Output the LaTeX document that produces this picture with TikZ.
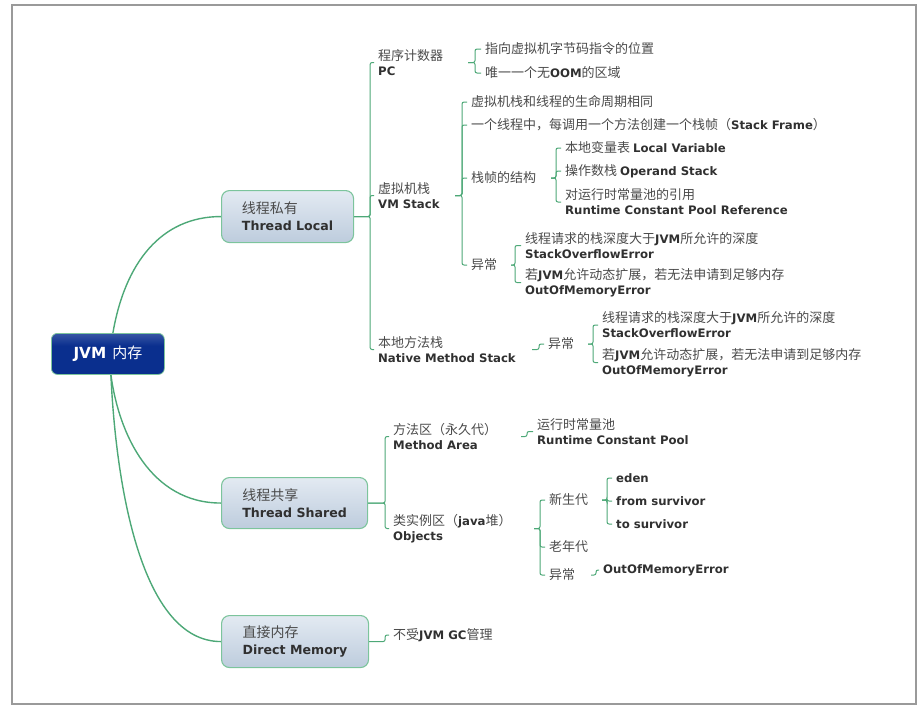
\documentclass[tikz,border=0pt]{standalone}
\usepackage{fontspec}
\setmainfont{Noto Sans CJK SC}
\newfontfamily\vfont{DejaVu Sans}[Scale=0.9]
\usetikzlibrary{calc}
\definecolor{lineg}{HTML}{4DA877}
\definecolor{boxg}{HTML}{7CC49C}
\definecolor{boxtop}{HTML}{E3EAF2}
\definecolor{boxbot}{HTML}{BDCCDD}
\definecolor{jvmdark}{HTML}{0A2F8E}
\definecolor{jvmlight}{HTML}{8196C9}
\definecolor{txtgray}{HTML}{4A4A4A}
\definecolor{txtdark}{HTML}{303030}
\definecolor{framegray}{HTML}{9A9A9A}
\pgfdeclareverticalshading{jvmshade}{100bp}{color(0bp)=(jvmdark); color(60bp)=(jvmdark); color(100bp)=(jvmlight)}
\pgfdeclarelayer{bg}
\pgfsetlayers{bg,main}
\newcommand\vb[1]{{\vfont\bfseries\color{txtdark}#1}}
\tikzset{
  conn/.style={draw=lineg, line width=1pt, rounded corners=2pt},
  trunk/.style={draw=lineg, line width=1.4pt},
  lbl/.style={anchor=west, inner xsep=4pt, inner ysep=1pt, align=left, text=txtgray, font=\fontsize{13}{15}\selectfont},
  topic/.style={anchor=north west, draw=boxg, line width=1.1pt, rounded corners=8pt, top color=boxtop, bottom color=boxbot, align=left, text=txtgray, font=\fontsize{14}{17}\selectfont, minimum height=52pt},
  rootbox/.style={anchor=north west, draw=boxg, line width=0.8pt, rounded corners=6pt, shading=jvmshade, text=white, font=\fontsize{15}{18}\selectfont},
  framebox/.style={draw=framegray, line width=1.3pt}
}
\begin{document}
\begin{tikzpicture}[x=1pt,y=-1pt]
\useasboundingbox (0,0) rectangle (923,712);
\begin{pgfonlayer}{bg}
\draw[framebox] (12,5) rectangle (916,704);
\end{pgfonlayer}
% root and topics
\node[rootbox, minimum width=113pt, minimum height=41pt] (jvm) at (51,333) {{\vfont\fontsize{17}{18}\selectfont\bfseries JVM}\hspace{6pt}内存};
\node[topic, minimum width=132pt] (tl) at (221,190) {线程私有\\\vb{Thread Local}};
\node[topic, minimum width=146pt, minimum height=51pt] (ts) at (221,477) {线程共享\\\vb{Thread Shared}};
\node[topic, minimum width=147pt] (dm) at (221,615) {直接内存\\\vb{Direct Memory}};
% Thread Local subtree
\node[lbl] (pc) at (374,62.5) {程序计数器\\\vb{PC}};
\node[lbl] (pc1) at (481,49) {指向虚拟机字节码指令的位置};
\node[lbl] (pc2) at (481,73) {唯一一个无\vb{OOM}的区域};
\node[lbl] (vms) at (374,195.5) {虚拟机栈\\\vb{VM Stack}};
\node[lbl] (v1) at (467,102) {虚拟机栈和线程的生命周期相同};
\node[lbl] (v2) at (467,125) {一个线程中，每调用一个方法创建一个栈帧（\vb{Stack Frame}）};
\node[lbl] (v3) at (467,178) {栈帧的结构};
\node[lbl] (f1) at (561,148) {本地变量表 \vb{Local Variable}};
\node[lbl] (f2) at (561,171) {操作数栈 \vb{Operand Stack}};
\node[lbl] (f3) at (561,202) {对运行时常量池的引用\\\vb{Runtime Constant Pool Reference}};
\node[lbl] (v4) at (467,265) {异常};
\node[lbl] (e1) at (521,245.5) {线程请求的栈深度大于\vb{JVM}所允许的深度\\\vb{StackOverflowError}};
\node[lbl] (e2) at (521,282.5) {若\vb{JVM}允许动态扩展，若无法申请到足够内存\\\vb{OutOfMemoryError}};
\node[lbl] (nms) at (374,349.5) {本地方法栈\\\vb{Native Method Stack}};
\node[lbl] (n1) at (544,344) {异常};
\node[lbl] (ne1) at (598,325) {线程请求的栈深度大于\vb{JVM}所允许的深度\\\vb{StackOverflowError}};
\node[lbl] (ne2) at (598,362.5) {若\vb{JVM}允许动态扩展，若无法申请到足够内存\\\vb{OutOfMemoryError}};
% Thread Shared subtree
\node[lbl] (ma) at (389,436.5) {方法区（永久代）\\\vb{Method Area}};
\node[lbl] (ma1) at (533,431.5) {运行时常量池\\\vb{Runtime Constant Pool}};
\node[lbl] (ob) at (389,528.5) {类实例区（\vb{java}堆）\\\vb{Objects}};
\node[lbl] (o1) at (545,500) {新生代};
\node[lbl] (y1) at (612,478) {\vb{eden}};
\node[lbl] (y2) at (612,501) {\vb{from survivor}};
\node[lbl] (y3) at (612,524) {\vb{to survivor}};
\node[lbl] (o2) at (545,547) {老年代};
\node[lbl] (o3) at (545,575) {异常};
\node[lbl] (o31) at (599,570) {\vb{OutOfMemoryError}};
% Direct Memory subtree
\node[lbl] (dm1) at (389,635) {不受\vb{JVM GC}管理};
% connectors
\begin{pgfonlayer}{bg}
\draw[trunk] ([xshift=5pt]jvm.north) .. controls +(12,-70) and +(-60,0) .. (tl.west);
\draw[trunk] ([xshift=3pt]jvm.south) .. controls +(8,60) and +(-70,0) .. (ts.west);
\draw[trunk] ([xshift=3pt]jvm.south) .. controls +(5,110) and +(-80,0) .. (dm.west);
\foreach \c in {pc,vms,nms} \draw[conn] (tl.east) -- ++(16,0) |- (\c.west);
\foreach \c in {pc1,pc2} \draw[conn] ($(pc.west)+(94,0)$) -- ++(7,0) |- (\c.west);
\foreach \c in {v1,v2,v3,v4} \draw[conn] ($(vms.west)+(81,0)$) -- ++(7,0) |- (\c.west);
\foreach \c in {f1,f2,f3} \draw[conn] ($(v3.west)+(84,0)$) -- ++(5,0) |- (\c.west);
\foreach \c in {e1,e2} \draw[conn] ($(v4.west)+(44,0)$) -- ++(4,0) |- (\c.west);
\draw[conn] ($(nms.west)+(158,0)$) -- ++(7,0) |- (n1.west);
\foreach \c in {ne1,ne2} \draw[conn] ($(n1.west)+(44,0)$) -- ++(5,0) |- (\c.west);
\foreach \c in {ma,ob} \draw[conn] (ts.east) -- ++(17,0) |- (\c.west);
\draw[conn] ($(ma.west)+(132,0)$) -- ++(6,0) |- (ma1.west);
\foreach \c in {o1,o2,o3} \draw[conn] ($(ob.west)+(145,0)$) -- ++(6,0) |- (\c.west);
\foreach \c in {y1,y2,y3} \draw[conn] ($(o1.west)+(57,0)$) -- ++(5,0) |- (\c.west);
\draw[conn] ($(o3.west)+(46,0)$) -- ++(5,0) |- (o31.west);
\draw[conn] (dm.east) -- ++(16,0) |- (dm1.west);
\end{pgfonlayer}
\end{tikzpicture}
\end{document}
